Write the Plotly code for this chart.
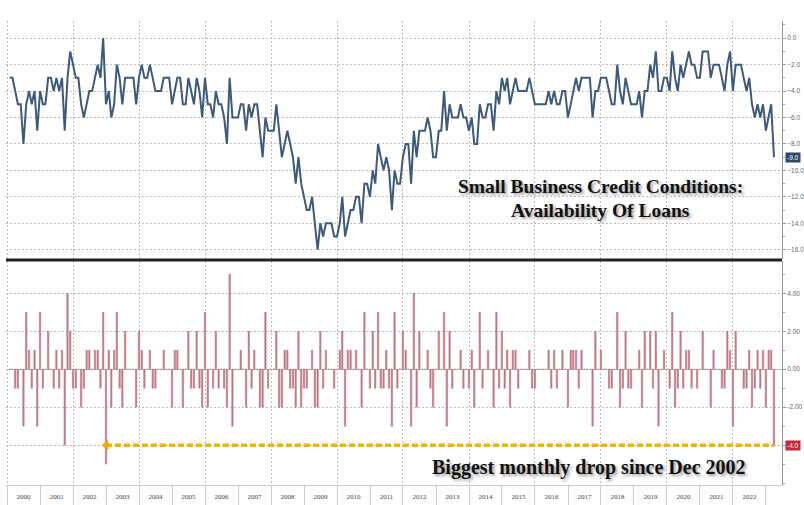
import pandas as pd
import plotly.graph_objects as go

# ---------------- data ----------------
# NFIB small business credit conditions: availability of loans (net %), monthly Jan 2000 - Mar 2023
levels = [
    -3, -3, -4, -5, -5, -8, -5, -4, -5, -4, -7, -4,          # 2000
    -5, -5, -3, -3, -4, -3, -4, -3, -7, -3, -1, -2,          # 2001
    -3, -3, -5, -6, -5, -4, -4, -3, -2, -3, 0, -5,           # 2002
    -4, -6, -5, -2, -3, -5, -3, -3, -3, -3, -5, -3,          # 2003
    -2, -3, -3, -2, -3, -4, -4, -4, -3, -3, -3, -5,          # 2004
    -4, -3, -3, -5, -5, -3, -4, -5, -3, -4, -6, -3,          # 2005
    -5, -5, -6, -4, -5, -5, -6, -8, -3, -6, -6, -6,          # 2006
    -5, -5, -7, -5, -6, -5, -5, -7, -9, -6, -7, -7,          # 2007
    -7, -5, -7, -9, -8, -7, -8, -9, -11, -9, -11, -12,       # 2008
    -13, -13, -12, -14, -16, -14, -15, -14, -14, -14, -15, -15,  # 2009
    -14, -12, -15, -14, -13, -13, -12, -12, -14, -11, -11, -12,  # 2010
    -10, -11, -8, -9, -10, -9, -10, -13, -10, -11, -11, -9,  # 2011
    -8, -8, -11, -7, -9, -7, -7, -7, -6, -7, -9, -9,         # 2012
    -7, -7, -4, -7, -5, -6, -6, -6, -5, -6, -6, -7,          # 2013
    -6, -8, -8, -5, -6, -6, -5, -5, -7, -4, -5, -3,          # 2014
    -4, -3, -5, -4, -3, -4, -4, -4, -4, -3, -4, -5,          # 2015
    -5, -5, -5, -5, -4, -5, -4, -5, -5, -4, -4, -6,          # 2016
    -5, -4, -3, -4, -3, -3, -3, -3, -6, -4, -4, -3,          # 2017
    -3, -3, -4, -5, -5, -2, -4, -5, -3, -4, -5, -5,          # 2018
    -5, -4, -6, -4, -4, -2, -3, -1, -4, -4, -3, -3,          # 2019
    -4, -1, -3, -4, -2, -3, -2, -1, -2, -2, -3, -3,          # 2020
    -1, -1, -1, -3, -2, -2, -2, -3, -4, -2, -1, -4,          # 2021
    -2, -2, -2, -3, -4, -3, -5, -6, -5, -6, -5, -7,          # 2022
    -6, -5, -9,                                              # 2023
]

# monthly change (bars)
changes = [
    0, 0, -1, -1, 0, -3, 3, 1, -1, 1, -3, 3,                 # 2000
    -1, 0, 2, 0, -1, 1, -1, 1, -4, 4, 2, -1,                 # 2001
    -1, 0, -2, -1, 1, 1, 0, 1, 1, -1, 3, -5,                 # 2002
    1, -2, 1, 3, -1, -2, 2, 0, 0, 0, -2, 2,                  # 2003
    1, -1, 0, 1, -1, -1, 0, 0, 1, 0, 0, -2,                  # 2004
    1, 1, 0, -2, 0, 2, -1, -1, 2, -1, -2, 3,                 # 2005
    -2, 0, -1, 2, -1, 0, -1, -2, 5, -3, 0, 0,                # 2006
    1, 0, -2, 2, -1, 1, 0, -2, -2, 3, -1, 0,                 # 2007
    0, 2, -2, -2, 1, 1, -1, -1, -2, 2, -2, -1,               # 2008
    -1, 0, 1, -2, -2, 2, -1, 1, 0, 0, -1, 0,                 # 2009
    1, 2, -3, 1, 1, 0, 1, 0, -2, 3, 0, -1,                   # 2010
    2, -1, 3, -1, -1, 1, -1, -3, 3, -1, 0, 2,                # 2011
    1, 0, -3, 4, -2, 2, 0, 0, 1, -1, -2, 0,                  # 2012
    2, 0, 3, -3, 2, -1, 0, 0, 1, -1, 0, -1,                  # 2013
    1, -2, 0, 3, -1, 0, 1, 0, -2, 3, -1, 2,                  # 2014
    -1, 1, -2, 1, 1, -1, 0, 0, 0, 1, -1, -1,                 # 2015
    0, 0, 0, 0, 1, -1, 1, -1, 0, 1, 0, -2,                   # 2016
    1, 1, 1, -1, 1, 0, 0, 0, -3, 2, 0, 1,                    # 2017
    0, 0, -1, -1, 0, 3, -2, -1, 2, -1, -1, 0,                # 2018
    0, 1, -2, 2, 0, 2, -1, 2, -3, 0, 1, 0,                   # 2019
    -1, 3, -2, -1, 2, -1, 1, 1, -1, 0, -1, 0,                # 2020
    2, 0, 0, -2, 1, 0, 0, -1, -1, 2, 1, -3,                  # 2021
    2, 0, 0, -1, -1, 1, -2, -1, 1, -1, 1, -2,                # 2022
    1, 1, -4,                                                # 2023
]

top_ticks = [0, -2, -4, -6, -8, -10, -12, -14, -16]
bottom_ticks = [4, 2, 0, -2, -4]
bottom_ticktext = ["4.00", "2.00", "0.00", "-2.00", ""]   # -4 label hidden under the tag

title_lines = ["Small Business Credit Conditions:", "Availability Of Loans"]
note_text = "Biggest monthly drop since Dec 2002"

# month-end dates
dates = pd.date_range("2000-02-01", periods=len(levels), freq="MS") - pd.Timedelta(days=1)

# ---------------- figure ----------------
W, H = 804, 505
ML, MR, MT, MB = 6, 22, 21, 20
plot_h = H - MT - MB
def py(px):  # pixel row -> paper y
    return (H - MB - px) / plot_h
def px_(x):  # pixel col -> paper x
    return (x - ML) / (W - ML - MR)

x_range = ["1999-12-20", "2023-06-28"]
grid_col = "#bdbdbd"
grid_dash = "2px,2px"
tick_font = dict(family="Arial, Liberation Sans", size=6.5, color="#666")

fig = go.Figure()
fig.add_trace(go.Scatter(
    x=dates, y=levels, mode="lines",
    line=dict(color="#3d5a78", width=2),
    xaxis="x", yaxis="y", showlegend=False, hoverinfo="x+y"))

fig.add_trace(go.Bar(
    x=dates, y=changes,
    marker=dict(color="#d47b8c", line=dict(color="#a56b78", width=0.5)),
    xaxis="x2", yaxis="y2", showlegend=False))

i0 = changes.index(min(changes[:len(changes) - 1]))  # Dec 2002 drop
fig.add_trace(go.Scatter(
    x=[dates[i0], dates[-1]], y=[changes[-1], changes[-1]], mode="lines",
    line=dict(color="#f0b400", width=3.5, dash="6px,3px"),
    xaxis="x3", yaxis="y2", showlegend=False, hoverinfo="skip"))
fig.add_trace(go.Scatter(
    x=[dates[i0]], y=[changes[-1]], mode="markers",
    marker=dict(symbol="triangle-left", size=9, color="#f0a800"),
    xaxis="x3", yaxis="y2", showlegend=False, hoverinfo="skip"))

top_dom = [py(259), 1]
bot_dom = [0, py(261)]

fig.update_layout(
    width=W, height=H,
    margin=dict(l=ML, r=MR, t=MT, b=MB, autoexpand=False),
    paper_bgcolor="white", plot_bgcolor="white",
    bargap=0.45,
    showlegend=False,
    xaxis=dict(domain=[0, 1], anchor="y", type="date", range=x_range, automargin=False,
               tick0="2000-01-01", dtick="M24", showgrid=True, gridcolor=grid_col,
               griddash=grid_dash, showticklabels=False, ticks="", zeroline=False,
               showline=False),
    xaxis2=dict(domain=[0, 1], anchor="y2", type="date", range=x_range, automargin=False,
                tick0="2000-01-01", dtick="M12", ticklabelmode="period",
                tickformat="%Y", ticks="outside", ticklen=20, tickcolor="#cccccc",
                ticklabelstandoff=-15,
                showgrid=False, zeroline=False, showline=True, linecolor="#cccccc",
                tickfont=dict(family="Liberation Serif", size=7, color="#444")),
    xaxis3=dict(overlaying="x2", anchor="y2", type="date", range=x_range, automargin=False,
                tick0="2000-01-01", dtick="M24", showgrid=True, gridcolor=grid_col,
                griddash=grid_dash, showticklabels=False, ticks="", zeroline=False,
                showline=False),
    yaxis=dict(domain=top_dom, anchor="x", side="right", range=[-16.7, 1.3], automargin=False,
               tickmode="array", tickvals=top_ticks, tickformat=".1f",
               showgrid=True, gridcolor=grid_col,
               griddash=grid_dash, zeroline=False, showline=True, linecolor="#999",
               ticks="outside", ticklen=3, tickcolor="#999",
               minor=dict(dtick=1, ticks="outside", ticklen=2, tickcolor="#aaa", showgrid=False),
               tickfont=tick_font),
    yaxis2=dict(domain=bot_dom, anchor="x2", side="right", range=[-6.1, 5.7], automargin=False,
                tickmode="array", tickvals=bottom_ticks, ticktext=bottom_ticktext,
                showgrid=True, gridcolor=grid_col,
                griddash=grid_dash, zeroline=True, zerolinecolor="#bdbdbd", zerolinewidth=1,
                showline=True, linecolor="#999", ticks="outside", ticklen=3, tickcolor="#999",
                minor=dict(dtick=1, ticks="outside", ticklen=2, tickcolor="#aaa", showgrid=False),
                tickfont=tick_font),
)

# thick separator between panels
fig.add_shape(type="line", xref="paper", yref="paper", x0=0, x1=1,
              y0=py(260), y1=py(260), line=dict(color="#222", width=3))

title_font = dict(family="Liberation Serif, Times New Roman, serif", size=19.5,
                  color="#111", weight="bold", shadow="2px 2px 3px #999")
fig.add_annotation(xref="paper", yref="paper", x=px_(600), y=py(186), xanchor="center",
                   yanchor="middle", text=title_lines[0], showarrow=False, font=title_font)
fig.add_annotation(xref="paper", yref="paper", x=px_(600), y=py(211), xanchor="center",
                   yanchor="middle", text=title_lines[1], showarrow=False, font=title_font)
note_font = dict(title_font, size=20)
fig.add_annotation(xref="paper", yref="paper", x=px_(589), y=py(467), xanchor="center",
                   yanchor="middle", text=note_text, showarrow=False, font=note_font)

# last-value tags on the right axis
fig.add_annotation(xref="paper", yref="y", x=1, xanchor="left", xshift=3,
                   y=levels[-1], text=f"{levels[-1]:.1f}", showarrow=False,
                   bgcolor="#2b4a6b", borderpad=1,
                   font=dict(family="Arial, Liberation Sans", size=6.5, color="white"))
fig.add_annotation(xref="paper", yref="y2", x=1, xanchor="left", xshift=3,
                   y=changes[-1], text=f"{changes[-1]:.1f}", showarrow=False,
                   bgcolor="#c8283a", borderpad=1,
                   font=dict(family="Arial, Liberation Sans", size=6.5, color="white"))

fig.write_html("out.html", config={"displayModeBar": False},
               post_script="document.body.style.margin='0';")
